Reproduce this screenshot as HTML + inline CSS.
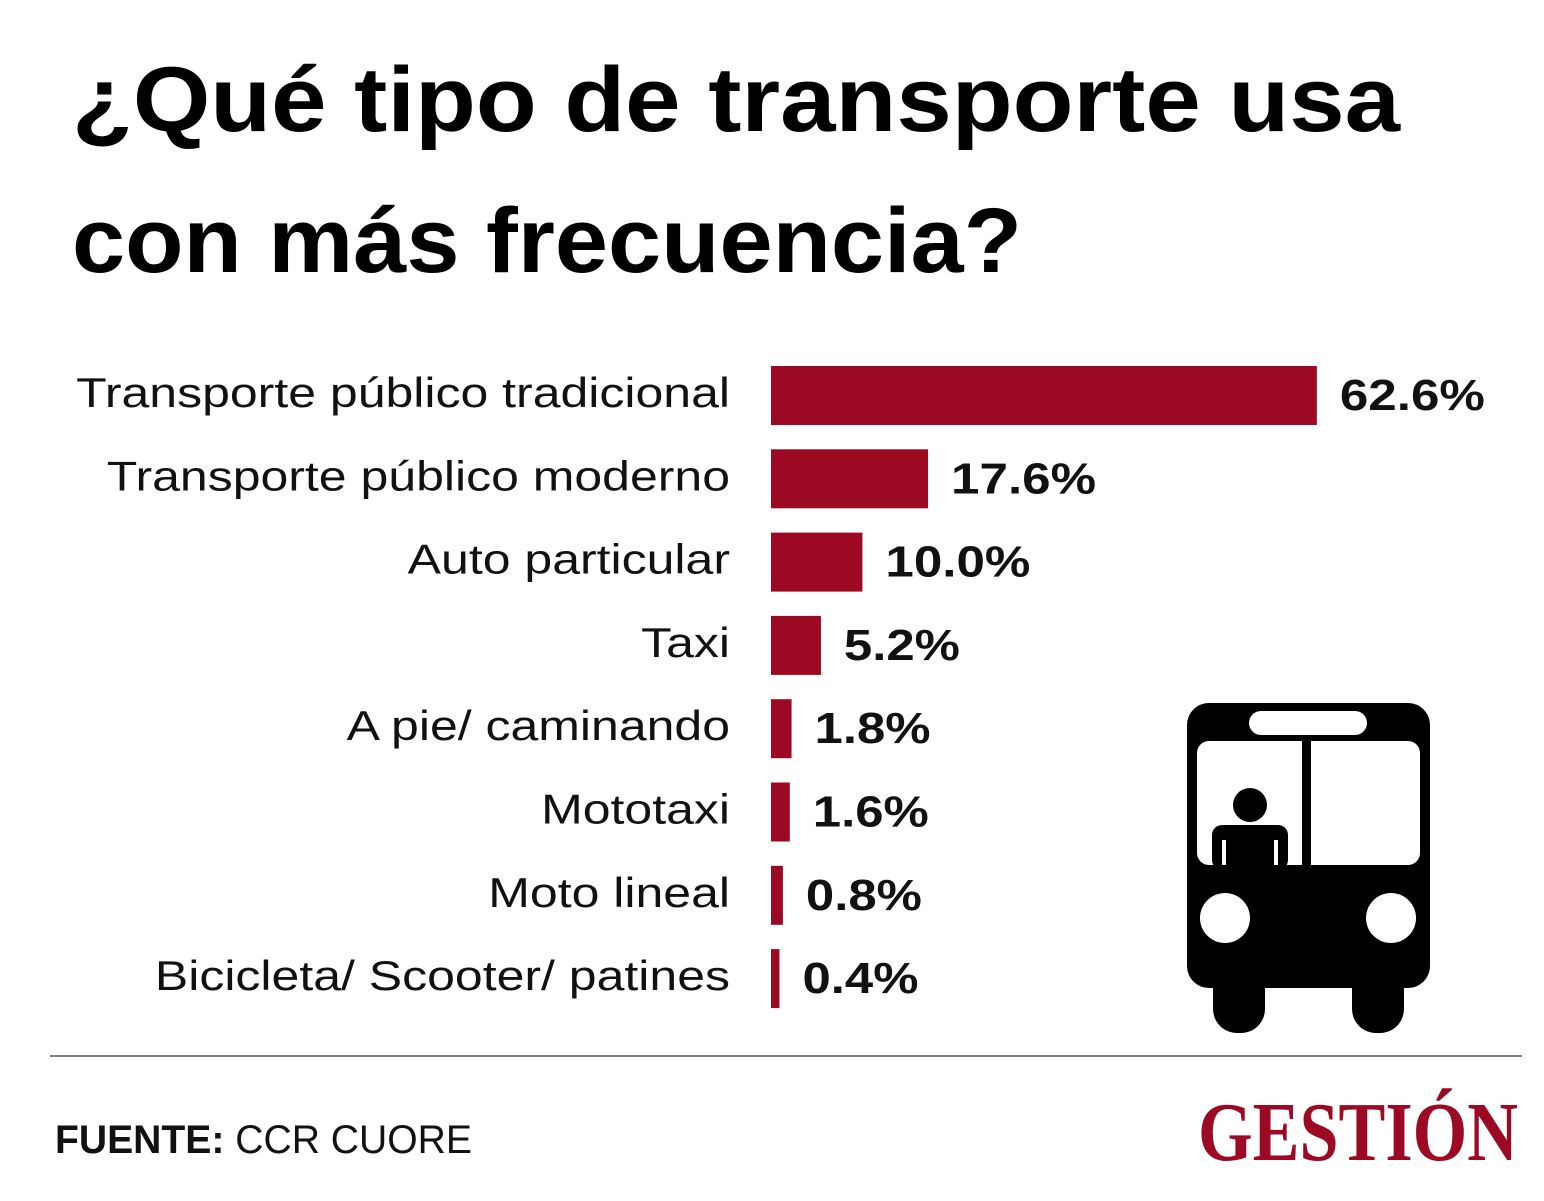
<!DOCTYPE html>
<html><head><meta charset="utf-8"><style>
html,body{margin:0;padding:0;background:#fff}
svg{display:block}
</style></head><body>
<svg id="chart" width="1544" height="1201" viewBox="0 0 1544 1201" xmlns="http://www.w3.org/2000/svg" style="font-family:'Liberation Sans',sans-serif">
<rect width="1544" height="1201" fill="#fff"/>
<text x="72" y="131" font-size="92" font-weight="bold" fill="#000" textLength="1328" lengthAdjust="spacingAndGlyphs">¿Qué tipo de transporte  usa</text>
<text x="72" y="272" font-size="92" font-weight="bold" fill="#000" textLength="950" lengthAdjust="spacingAndGlyphs">con más frecuencia?</text>
<g id="bars"></g>
<g>
  <rect x="1213" y="960" width="52" height="73" rx="24" fill="#000"/>
  <rect x="1352" y="960" width="52" height="73" rx="24" fill="#000"/>
  <rect x="1187" y="703" width="243" height="285" rx="22" fill="#000"/>
  <rect x="1249" y="711" width="118" height="24" rx="12" fill="#fff"/>
  <rect x="1197" y="741" width="223" height="124" rx="12" fill="#fff"/>
  <rect x="1302" y="741" width="9" height="124" fill="#000"/>
  <circle cx="1250" cy="805" r="17" fill="#000"/>
  <rect x="1212" y="825" width="76" height="45" rx="10" fill="#000"/>
  <rect x="1222" y="840" width="4" height="25" fill="#fff"/>
  <rect x="1274" y="840" width="4" height="25" fill="#fff"/>
  <circle cx="1225" cy="918" r="25" fill="#fff"/>
  <circle cx="1391" cy="918" r="25" fill="#fff"/>
</g>
<line x1="50" y1="1056" x2="1522" y2="1056" stroke="#555" stroke-width="1.5"/>
<text x="55" y="1153" font-size="40" fill="#111" textLength="417" lengthAdjust="spacingAndGlyphs"><tspan font-weight="bold">FUENTE:</tspan> CCR CUORE</text>
<text x="1198" y="1160" style="font-family:'Liberation Serif',serif" font-size="84" font-weight="bold" fill="#9b0a22" textLength="320" lengthAdjust="spacingAndGlyphs">GESTIÓN</text>
</svg>
<script>
const categories = ["Transporte público tradicional","Transporte público moderno","Auto particular","Taxi","A pie/ caminando","Mototaxi","Moto lineal","Bicicleta/ Scooter/ patines"];
const values = [62.6,17.6,10.0,5.2,1.8,1.6,0.8,0.4];
const valueLabels = ["62.6%","17.6%","10.0%","5.2%","1.8%","1.6%","0.8%","0.4%"];
const NS="http://www.w3.org/2000/svg";
const g=document.getElementById('bars');
const x0=771, offset=5, pxPerUnit=8.64;
function xScale(v){return x0+offset+v*pxPerUnit;}
function yScale(i){return 366+i*83.3;}
const barH=59;
categories.forEach((c,i)=>{
  const y=yScale(i);
  const w=xScale(values[i])-x0;
  const r=document.createElementNS(NS,'rect');
  
  
  r.setAttribute('x',x0);r.setAttribute('y',y);r.setAttribute('width',w);r.setAttribute('height',barH);
  r.setAttribute('fill','#9b0a22');
  g.appendChild(r);
  const t=document.createElementNS(NS,'text');
  
  
  t.setAttribute('x',730);t.setAttribute('y',y+41);t.setAttribute('text-anchor','end');
  t.setAttribute('font-size','42');t.setAttribute('fill','#111');
  t.textContent=c;g.appendChild(t);
  const nat=t.getComputedTextLength();
  t.setAttribute('textLength',(nat*1.19).toFixed(1));
  t.setAttribute('lengthAdjust','spacingAndGlyphs');
  const v=document.createElementNS(NS,'text');
  
  
  v.setAttribute('x',x0+w+23);v.setAttribute('y',y+44);
  v.setAttribute('font-size','44');v.setAttribute('font-weight','bold');v.setAttribute('fill','#111');
  v.textContent=valueLabels[i];g.appendChild(v);
  v.setAttribute('textLength',(valueLabels[i].length*29).toString());
  v.setAttribute('lengthAdjust','spacingAndGlyphs');
});
</script>
</body></html>
